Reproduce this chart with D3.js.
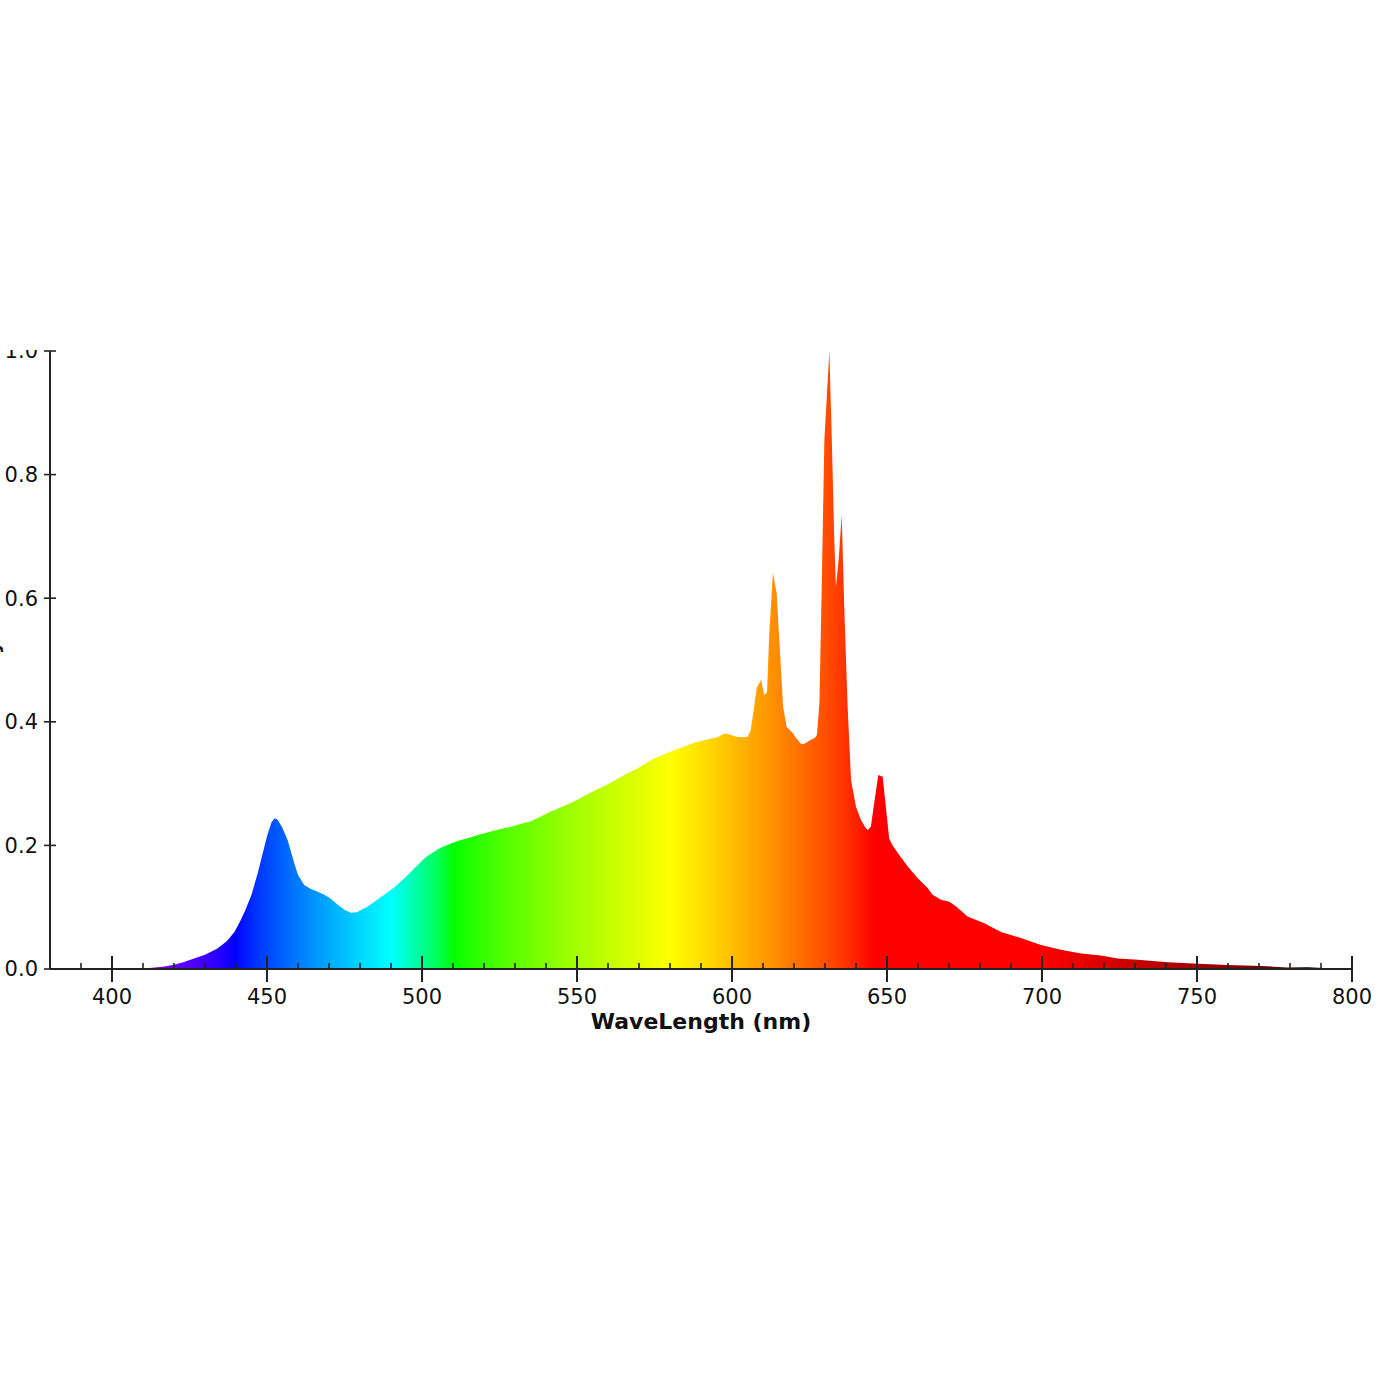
<!DOCTYPE html>
<html>
<head>
<meta charset="utf-8">
<script src="https://cdn.jsdelivr.net/npm/d3@7"></script>
<style>
  html, body { margin: 0; padding: 0; background: #fff; }
  svg { display: block; font-family: "DejaVu Sans", Verdana, sans-serif; }
</style>
</head>
<body>
<div id="chart"></div>
<script>
// spectrum samples (nm, relative intensity)
var wavelengths = [
  380, 390, 400, 405, 410, 413, 417, 420, 423, 426, 430, 434, 437, 439.5, 441.5,
  443, 445, 447, 448.5, 450, 451.5, 452.5, 453.5, 455, 456.7, 458.8, 460, 462,
  464, 466, 468.5, 470.5, 472.8, 475, 477, 479, 482.5, 485, 487.8, 491, 494.3,
  498, 501, 503, 506, 509.4, 512, 515, 518, 522, 525, 528.7, 532, 535.2, 538,
  541.6, 546, 550.2, 553, 556.7, 560, 563.1, 566, 569.6, 572, 574, 577, 580.3,
  584, 587.8, 591, 595.4, 597, 598.1, 599.5, 601.3, 603, 605, 606, 607, 608,
  609.4, 610.4, 611.3, 612, 613.2, 614.4, 615.5, 616.5, 617.6, 619.6, 620.6,
  622.3, 623.2, 625.5, 626.8, 627.4, 628.2, 628.9, 629.8, 631.4, 632.2, 633,
  633.5, 634.4, 635.4, 636.2, 637.3, 638.4, 640, 641.6, 643, 643.8, 644.8, 646,
  647.2, 648.6, 650.7, 651.8, 654, 656.7, 659.9, 663.1, 664.7, 667.4, 670.1,
  672.3, 676, 681.4, 686.8, 693.2, 699.7, 706.1, 712.6, 719, 724.4, 730.9,
  740.6, 750.3, 760, 770.6, 779, 785.8, 794, 800
];
var intensities = [
  0, 0, 0.001, 0.0005, 0.001, 0.002, 0.004, 0.007, 0.011, 0.016, 0.023, 0.033, 0.045, 0.06, 0.079,
  0.095, 0.12, 0.155, 0.185, 0.215, 0.238, 0.244, 0.241, 0.228, 0.208, 0.171, 0.152, 0.136,
  0.13, 0.126, 0.12, 0.114, 0.104, 0.096, 0.091, 0.092, 0.101, 0.11, 0.12, 0.132, 0.147,
  0.165, 0.18, 0.187, 0.196, 0.203, 0.208, 0.212, 0.217, 0.222, 0.226, 0.23, 0.235, 0.239, 0.246,
  0.255, 0.264, 0.274, 0.282, 0.291, 0.299, 0.308, 0.316, 0.325, 0.332, 0.338, 0.345, 0.352,
  0.359, 0.366, 0.37, 0.375, 0.38, 0.381, 0.379, 0.376, 0.375, 0.376, 0.385, 0.42, 0.455,
  0.468, 0.443, 0.448, 0.54, 0.641, 0.608, 0.51, 0.424, 0.392, 0.382, 0.374,
  0.364, 0.364, 0.371, 0.374, 0.379, 0.43, 0.608, 0.856, 1.0, 0.856, 0.694,
  0.618, 0.662, 0.735, 0.586, 0.424, 0.306, 0.262, 0.241, 0.229, 0.225, 0.23, 0.273,
  0.314, 0.311, 0.211, 0.2, 0.184, 0.166, 0.147, 0.131, 0.12, 0.112, 0.109,
  0.101, 0.085, 0.074, 0.06, 0.05, 0.039, 0.031, 0.025, 0.022, 0.017, 0.015,
  0.011, 0.0086, 0.0065, 0.005, 0.0024, 0.003, 0.001, 0
];

var xMajorTicks = [400, 450, 500, 550, 600, 650, 700, 750, 800];
var xMinorTicks = [390, 410, 420, 430, 440, 460, 470, 480, 490, 510, 520, 530, 540,
  560, 570, 580, 590, 610, 620, 630, 640, 660, 670, 680, 690, 710, 720, 730, 740,
  760, 770, 780, 790];
var yTicks = [0, 0.2, 0.4, 0.6, 0.8, 1.0];

var xLabel = 'WaveLength (nm)';
var yLabel = 'Relative Intensity';

/**
 * Approximate visible colour of a wavelength (Bruton's method).
 */
function waveColor(w) {
  var r = 0, g = 0, b = 0, f = 0;
  if (w < 440) { r = -(w - 440) / 60; b = 1; }
  else if (w < 490) { g = (w - 440) / 50; b = 1; }
  else if (w < 510) { g = 1; b = -(w - 510) / 20; }
  else if (w < 580) { r = (w - 510) / 70; g = 1; }
  else if (w < 645) { r = 1; g = -(w - 645) / 65; }
  else if (w <= 781) { r = 1; }

  if (w < 420) f = 0.3 + 0.7 * (w - 380) / 40;
  else if (w < 701) f = 1;
  else if (w < 781) f = 0.3 + 0.7 * (780 - w) / 80;
  else f = 0;

  function c(v) { return v === 0 ? 0 : Math.round(255 * Math.pow(v * f, 0.8)); }
  return d3.rgb(c(r), c(g), c(b)).formatHex();
}

var width = 1395, height = 1395;
var axisColor = '#222';

var x = d3.scaleLinear().domain([380, 800]).range([50, 1352]);
var y = d3.scaleLinear().domain([0, 1]).range([969, 351]);

var svg = d3.select('#chart')
  .append('svg')
  .attr('width', width)
  .attr('height', height);

var defs = svg.append('defs');

// the plot is cut off above y = 350 in the original
defs.append('clipPath')
  .attr('id', 'page-clip')
  .append('rect')
  .attr('x', 0).attr('y', 350)
  .attr('width', width).attr('height', height - 350);

var grad = defs.append('linearGradient')
  .attr('id', 'spectrum')
  .attr('gradientUnits', 'userSpaceOnUse')
  .attr('x1', x(380)).attr('x2', x(800))
  .attr('y1', 0).attr('y2', 0);

grad.selectAll('stop')
  .data(d3.range(380, 801, 2))
  .enter()
  .append('stop')
  .attr('offset', function(d) { return (d - 380) / 420; })
  .attr('stop-color', function(d) { return waveColor(d); });

var g = svg.append('g').attr('clip-path', 'url(#page-clip)');

var points = wavelengths.map(function(w, i) { return [w, intensities[i]]; });

var area = d3.area()
  .x(function(d) { return x(d[0]); })
  .y0(y(0))
  .y1(function(d) { return y(d[1]); });

g.append('path')
  .datum(points)
  .attr('d', area)
  .attr('fill', 'url(#spectrum)');

//// x axis
g.append('line')
  .attr('x1', x(380)).attr('x2', x(800))
  .attr('y1', y(0)).attr('y2', y(0))
  .attr('stroke', axisColor)
  .attr('stroke-width', 2);

g.selectAll('.x-major')
  .data(xMajorTicks)
  .enter()
  .append('line')
  .classed('x-major', true)
  .attr('x1', function(d) { return x(d); })
  .attr('x2', function(d) { return x(d); })
  .attr('y1', y(0) - 13)
  .attr('y2', y(0) + 13)
  .attr('stroke', axisColor)
  .attr('stroke-width', 2);

g.selectAll('.x-minor')
  .data(xMinorTicks)
  .enter()
  .append('line')
  .classed('x-minor', true)
  .attr('x1', function(d) { return x(d); })
  .attr('x2', function(d) { return x(d); })
  .attr('y1', y(0) - 6)
  .attr('y2', y(0))
  .attr('stroke', axisColor)
  .attr('stroke-width', 1.6);

g.selectAll('.x-label')
  .data(xMajorTicks)
  .enter()
  .append('text')
  .classed('x-label', true)
  .attr('x', function(d) { return x(d); })
  .attr('y', 1004)
  .attr('text-anchor', 'middle')
  .style('font-size', '21px')
  .attr('fill', '#111')
  .text(function(d) { return d; });

g.append('text')
  .attr('x', (x(380) + x(800)) / 2)
  .attr('y', 1029)
  .attr('text-anchor', 'middle')
  .style('font-size', '22px')
  .style('font-weight', 'bold')
  .attr('fill', '#111')
  .text(xLabel);

//// y axis
g.append('line')
  .attr('x1', x(380)).attr('x2', x(380))
  .attr('y1', y(1)).attr('y2', y(0))
  .attr('stroke', axisColor)
  .attr('stroke-width', 2);

g.selectAll('.y-tick')
  .data(yTicks)
  .enter()
  .append('line')
  .classed('y-tick', true)
  .attr('x1', x(380) - 6)
  .attr('x2', x(380) + 6)
  .attr('y1', function(d) { return y(d); })
  .attr('y2', function(d) { return y(d); })
  .attr('stroke', axisColor)
  .attr('stroke-width', 1.6);

var fmt = d3.format('.1f');
g.selectAll('.y-label')
  .data(yTicks)
  .enter()
  .append('text')
  .classed('y-label', true)
  .attr('x', 38)
  .attr('y', function(d) { return y(d); })
  .attr('dy', '0.35em')
  .attr('text-anchor', 'end')
  .style('font-size', '21px')
  .attr('fill', '#111')
  .text(function(d) { return fmt(d); });

// the axis title sits off the left edge; only a sliver of it shows
g.append('text')
  .attr('transform', 'translate(-1,641) rotate(-90)')
  .attr('text-anchor', 'end')
  .style('font-size', '20px')
  .style('font-weight', 'bold')
  .attr('fill', '#111')
  .text(yLabel);
</script>
</body>
</html>
